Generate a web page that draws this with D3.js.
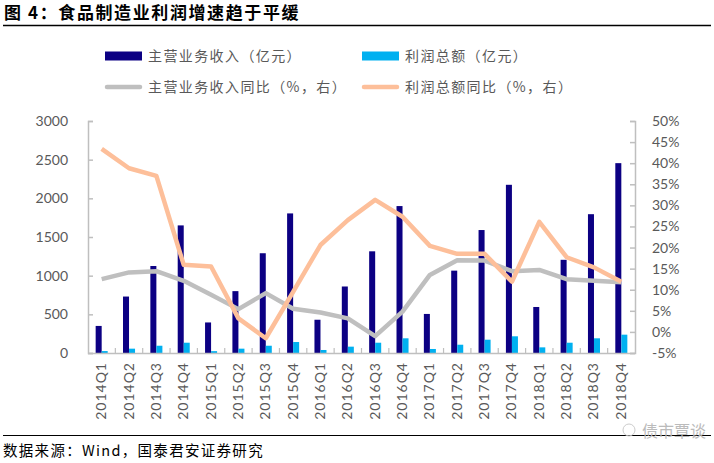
<!DOCTYPE html>
<html>
<head>
<meta charset="utf-8">
<script src="https://cdn.jsdelivr.net/npm/d3@7"></script>
<style>
  body { margin: 0; background: #fff; }
  svg text { font-family: Lato, "Liberation Sans", sans-serif; }
  .cjk { font-family: "Noto Sans CJK SC", sans-serif; }
</style>
</head>
<body>
<div id="chart"></div>
<script>
/* Data */
const quarters = ["2014Q1","2014Q2","2014Q3","2014Q4","2015Q1","2015Q2","2015Q3","2015Q4",
  "2016Q1","2016Q2","2016Q3","2016Q4","2017Q1","2017Q2","2017Q3","2017Q4",
  "2018Q1","2018Q2","2018Q3","2018Q4"];
const revenue = [350, 730, 1125, 1650, 395, 800, 1290, 1805, 430, 860, 1315, 1900,
  505, 1065, 1590, 2175, 595, 1205, 1795, 2455];
const profit = [25, 56, 94, 133, 24, 56, 94, 142, 39, 82, 133, 190,
  52, 107, 172, 216, 73, 133, 190, 237];
const revenueYoY = [12.5, 14.1, 14.4, 12.1, 8.8, 5.4, 9.2, 5.5, 4.6, 3.2, -1.0, 4.8,
  13.5, 17.0, 16.9, 14.4, 14.7, 12.5, 12.1, 11.8];
const profitYoY = [43.4, 38.8, 37.0, 15.9, 15.5, 3.2, -1.5, 9.5, 20.6, 26.5, 31.3, 27.3,
  20.4, 18.5, 18.5, 11.9, 26.1, 17.7, 15.3, 11.9];
const leftTicks = [0, 500, 1000, 1500, 2000, 2500, 3000];
const rightTicks = [-5, 0, 5, 10, 15, 20, 25, 30, 35, 40, 45, 50];

const colors = { rev: "#0c0083", profit: "#00b0f0", revYoY: "#bfbfbf", profitYoY: "#fdbf9a" };

/* Layout */
const W = 714, H = 463;
const plot = { left: 88, right: 635, top: 121, bottom: 353 };

const svg = d3.select("#chart").append("svg")
  .attr("width", W).attr("height", H);

// Title
svg.append("text").attr("class", "cjk")
  .attr("x", 4).attr("y", 19)
  .attr("font-size", 17).attr("font-weight", "bold").attr("fill", "#000")
  .attr("letter-spacing", 1.6)
  .text("图 4：食品制造业利润增速趋于平缓");
svg.append("line").attr("x1", 3).attr("x2", 711).attr("y1", 25.5).attr("y2", 25.5)
  .attr("stroke", "#000").attr("stroke-width", 1.5);

// Scales
const x = d3.scaleBand().domain(quarters).range([plot.left, plot.right]).padding(0);
const yL = d3.scaleLinear().domain([0, 3000]).range([plot.bottom, plot.top]);
const yR = d3.scaleLinear().domain([-5, 50]).range([plot.bottom, plot.top]);
const barW = x.bandwidth() * 0.22;
const cx = d => x(d) + x.bandwidth() / 2;

// Axes
const axisColor = "#bfbfbf";
const gL = svg.append("g").attr("transform", "translate(" + plot.left + ",0)")
  .call(d3.axisRight(yL).tickValues(leftTicks).tickSize(5).tickFormat(""));
const gR = svg.append("g").attr("transform", "translate(" + plot.right + ",0)")
  .call(d3.axisLeft(yR).tickValues(rightTicks).tickSize(5).tickFormat(""));
[gL, gR].forEach(g => {
  g.select(".domain").attr("stroke", axisColor).attr("stroke-width", 1.5);
  g.selectAll(".tick line").attr("stroke", axisColor).attr("stroke-width", 1.5);
});

leftTicks.forEach(t => {
  svg.append("text").attr("x", 68).attr("y", yL(t) + 5)
    .attr("text-anchor", "end").attr("font-size", 14).attr("fill", "#595959")
    .text(t);
});
rightTicks.forEach(t => {
  svg.append("text").attr("x", 652).attr("y", yR(t) + 5)
    .attr("text-anchor", "start").attr("font-size", 14).attr("fill", "#595959")
    .text(t + "%");
});

// Bars
svg.append("g").selectAll("rect").data(quarters).join("rect")
  .attr("x", d => cx(d) - barW)
  .attr("y", (d, i) => yL(revenue[i]))
  .attr("width", barW)
  .attr("height", (d, i) => yL(0) - yL(revenue[i]))
  .attr("fill", colors.rev);
svg.append("g").selectAll("rect").data(quarters).join("rect")
  .attr("x", d => cx(d))
  .attr("y", (d, i) => yL(profit[i]))
  .attr("width", barW)
  .attr("height", (d, i) => yL(0) - yL(profit[i]))
  .attr("fill", colors.profit);

// X axis line and ticks
svg.append("line").attr("x1", plot.left).attr("x2", plot.right)
  .attr("y1", plot.bottom + 0.5).attr("y2", plot.bottom + 0.5)
  .attr("stroke", axisColor).attr("stroke-width", 1.5);
quarters.slice(1).forEach(q => {
  svg.append("line").attr("x1", x(q)).attr("x2", x(q))
    .attr("y1", plot.bottom).attr("y2", plot.bottom - 5)
    .attr("stroke", axisColor).attr("stroke-width", 1.2);
});

// Lines
const line = d3.line().x((d, i) => cx(quarters[i])).y(d => yR(d));
svg.append("path").datum(revenueYoY).attr("d", line)
  .attr("fill", "none").attr("stroke", colors.revYoY).attr("stroke-width", 4.5)
  .attr("stroke-linejoin", "round");
svg.append("path").datum(profitYoY).attr("d", line)
  .attr("fill", "none").attr("stroke", colors.profitYoY).attr("stroke-width", 4.5)
  .attr("stroke-linejoin", "round");

// X labels
quarters.forEach(q => {
  const px = cx(q) - 0.5;
  svg.append("text")
    .attr("transform", "translate(" + (px + 5) + "," + 362 + ") rotate(-90)")
    .attr("text-anchor", "end").attr("font-size", 14).attr("fill", "#595959")
    .attr("letter-spacing", 1)
    .text(q);
});

// Legend
const legend = [
  { label: "主营业务收入（亿元）", color: colors.rev, type: "rect", x: 105, y: 56 },
  { label: "利润总额（亿元）", color: colors.profit, type: "rect", x: 362, y: 56 },
  { label: "主营业务收入同比（%，右）", color: colors.revYoY, type: "line", x: 105, y: 87 },
  { label: "利润总额同比（%，右）", color: colors.profitYoY, type: "line", x: 362, y: 87 }
];
legend.forEach(l => {
  if (l.type === "rect") {
    svg.append("rect").attr("x", l.x).attr("y", l.y - 4.5).attr("width", 37).attr("height", 9)
      .attr("fill", l.color);
  } else {
    svg.append("line").attr("x1", l.x + 2).attr("x2", l.x + 35).attr("y1", l.y).attr("y2", l.y)
      .attr("stroke", l.color).attr("stroke-width", 4.5).attr("stroke-linecap", "round");
  }
  svg.append("text").attr("class", "cjk")
    .attr("x", l.x + 43).attr("y", l.y + 5)
    .attr("font-size", 14).attr("letter-spacing", 1.4).attr("fill", "#595959")
    .text(l.label);
});

// Footer
svg.append("line").attr("x1", 3).attr("x2", 711).attr("y1", 435.5).attr("y2", 435.5)
  .attr("stroke", "#000").attr("stroke-width", 1.2);
svg.append("text").attr("class", "cjk")
  .attr("x", 3).attr("y", 456)
  .attr("font-size", 14.5).attr("letter-spacing", 1.3).attr("fill", "#000")
  .text("数据来源：Wind，国泰君安证券研究");
svg.append("circle").attr("cx", 629).attr("cy", 430).attr("r", 6)
  .attr("fill", "none").attr("stroke", "#ccc").attr("stroke-width", 1);
svg.append("text").attr("class", "cjk")
  .attr("x", 642).attr("y", 437)
  .attr("font-size", 16).attr("fill", "#bbb")
  .text("债市覃谈");
</script>
</body>
</html>
